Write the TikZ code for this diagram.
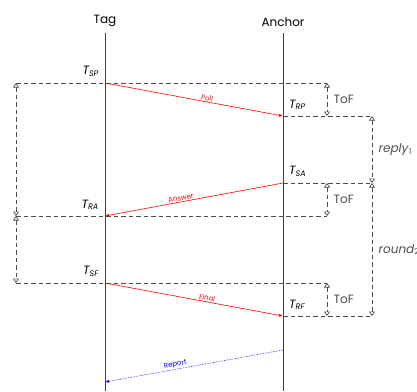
\documentclass[tikz,border=0pt]{standalone}
\usepackage{fontspec}
\setmainfont{Poppins}
\usetikzlibrary{arrows.meta,calc,positioning}

\begin{document}
\begin{tikzpicture}[x=1pt,y=-1pt,>=Latex,
  font=\fontsize{12}{14}\selectfont,
  life/.style={black!75,line width=0.8pt},
  guide/.style={black!70,line width=0.7pt,dash pattern=on 4.5pt off 3pt},
  span/.style={guide,{Triangle[open,width=6pt,length=4.5pt]}-{Triangle[open,width=6pt,length=4.5pt]}},
  msg/.style={red,line width=0.6pt,-{Latex[length=4pt,width=3pt]}},
  msglbl/.style={font=\fontsize{7}{8}\selectfont,sloped,above,inner sep=1pt},
  tlbl/.style={font=\fontsize{12}{14}\selectfont\itshape,inner sep=1pt}]
  \useasboundingbox (0,0) rectangle (417,391);

  % lifelines
  \node (tag) at (105,21) {Tag};
  \node (anchor) at (283,22) {Anchor};
  \coordinate (tagtop) at (105,33);
  \coordinate (tagend) at (105,391);
  \coordinate (anctop) at (283,33);
  \coordinate (ancend) at (283,391);
  \draw[life] (tagtop) -- (tagend);
  \draw[life] (anctop) -- (ancend);

  % time stamps
  \coordinate (sp) at (105,83);
  \coordinate (rp) at (283,116);
  \coordinate (sa) at (283,183);
  \coordinate (ra) at (105,216);
  \coordinate (sf) at (105,283);
  \coordinate (rf) at (283,316);
  \coordinate (rs) at (283,350);
  \coordinate (rr) at (105,382);

  % measuring columns
  \coordinate (l1) at (16,83);
  \coordinate (l2) at (16,216);
  \coordinate (l3) at (16,283);
  \coordinate (t1) at (327,83);
  \coordinate (t2) at (327,116);
  \coordinate (t3) at (327,183);
  \coordinate (t4) at (327,216);
  \coordinate (t5) at (327,283);
  \coordinate (t6) at (327,316);
  \coordinate (r1) at (372,116);
  \coordinate (r2) at (372,183);
  \coordinate (r3) at (372,316);

  \draw[guide] (l1) -- (t1);
  \draw[guide] (rp) -- (r1);
  \draw[guide] (sa) -- (r2);
  \draw[guide] (l2) -- (t4);
  \draw[guide] (l3) -- (t5);
  \draw[guide] (rf) -- (r3);

  \draw[span] (l1) -- (l2);
  \draw[span] (l2) -- (l3);
  \draw[span] (t1) -- (t2) node[midway,right=3pt] {ToF};
  \draw[span] (t3) -- (t4) node[midway,right=3pt] {ToF};
  \draw[span] (t5) -- (t6) node[midway,right=3pt] {ToF};
  \draw[span] (r1) -- (r2) node[midway,right=3pt] {\textit{reply}\textsubscript{1}};
  \draw[span] (r2) -- (r3) node[midway,right=3pt] {\textit{round}\textsubscript{2}};

  % messages
  \draw[msg] (sp) -- (rp) node[msglbl,pos=0.57] {Poll};
  \draw[msg] (sa) -- (ra) node[msglbl,pos=0.57] {Answer};
  \draw[msg] (sf) -- (rf) node[msglbl,pos=0.57] {Final};
  \draw[msg,blue,densely dotted] (rs) -- (rr) node[msglbl,pos=0.6] {Report};

  \node[tlbl,above left=5pt and 5pt] at (sp) {T\textsubscript{SP}};
  \node[tlbl,above right=5pt and 5pt] at (rp) {T\textsubscript{RP}};
  \node[tlbl,above right=5pt and 5pt] at (sa) {T\textsubscript{SA}};
  \node[tlbl,above left=5pt and 5pt] at (ra) {T\textsubscript{RA}};
  \node[tlbl,above left=5pt and 5pt] at (sf) {T\textsubscript{SF}};
  \node[tlbl,above right=5pt and 5pt] at (rf) {T\textsubscript{RF}};
\end{tikzpicture}
\end{document}
